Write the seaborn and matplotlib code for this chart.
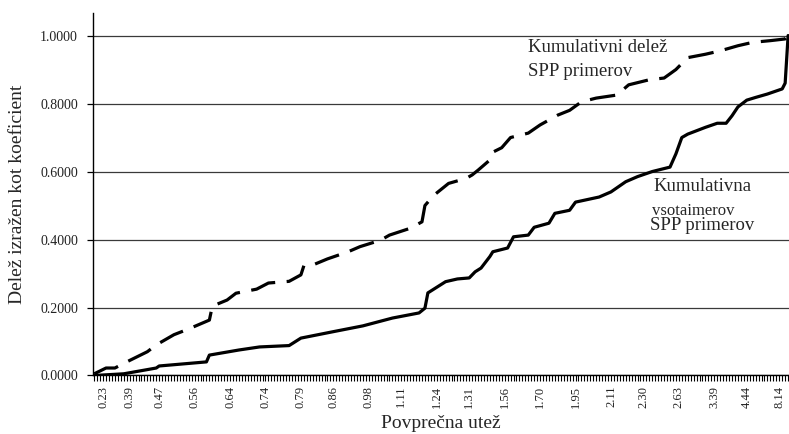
import numpy as np
import pandas as pd
import matplotlib
matplotlib.use("Agg")
import matplotlib.pyplot as plt
import seaborn as sns

# Number of SPP examples (categories on the x axis), sorted by average weight
n_items = 236

# Labelled categories and their labels
label_items = [3, 12, 22, 34, 46, 58, 70, 81, 93, 104, 116,
               127, 139, 151, 163, 175, 186, 198, 210, 221, 232]
weight_labels = ['0.23', '0.39', '0.47', '0.56', '0.64', '0.74', '0.79', '0.86',
                 '0.98', '1.11', '1.24', '1.31', '1.56', '1.70', '1.95', '2.11',
                 '2.30', '2.63', '3.39', '4.44', '8.14']

# Cumulative share of SPP examples (dashed line)
count_items = [0, 4, 7, 11, 18, 21, 27, 32, 39, 40, 45, 48, 55, 59, 66, 70, 71,
               74, 79, 86, 90, 97, 100, 107, 111, 112, 115, 120, 126, 128, 130,
               134, 135, 138, 141, 147, 151, 157, 161, 165, 170, 177, 181, 188,
               193, 197, 201, 207, 212, 218, 223, 229, 234, 235]
count_share = [0.005, 0.022, 0.022, 0.04, 0.07, 0.09, 0.12, 0.137, 0.163, 0.204,
               0.222, 0.242, 0.254, 0.272, 0.277, 0.296, 0.323, 0.325, 0.343,
               0.364, 0.379, 0.398, 0.413, 0.433, 0.452, 0.50, 0.53, 0.565,
               0.58, 0.59, 0.604, 0.634, 0.657, 0.67, 0.70, 0.713, 0.737, 0.766,
               0.78, 0.805, 0.816, 0.825, 0.855, 0.87, 0.875, 0.90, 0.935, 0.945,
               0.955, 0.97, 0.98, 0.985, 0.99, 1.0]

# Cumulative sum of SPP example weights (solid line)
sum_items = [0, 10, 21, 22, 38, 39, 49, 56, 66, 70, 81, 91, 101, 110, 112, 113,
             119, 123, 127, 129, 131, 134, 135, 140, 142, 147, 149, 154, 156,
             161, 163, 171, 175, 180, 184, 189, 195, 197, 199, 201, 204, 207,
             211, 214, 216, 218, 221, 224, 228, 233, 234, 235]
sum_share = [0.0, 0.005, 0.022, 0.028, 0.04, 0.06, 0.075, 0.084, 0.088, 0.11,
             0.129, 0.146, 0.169, 0.184, 0.198, 0.243, 0.276, 0.284, 0.287,
             0.305, 0.316, 0.35, 0.364, 0.375, 0.408, 0.413, 0.436, 0.448,
             0.477, 0.486, 0.51, 0.525, 0.54, 0.57, 0.585, 0.60, 0.613, 0.652,
             0.70, 0.71, 0.72, 0.73, 0.742, 0.742, 0.764, 0.79, 0.81, 0.818,
             0.828, 0.843, 0.86, 1.0]

y_ticks = [0.0, 0.2, 0.4, 0.6, 0.8, 1.0]

count_df = pd.DataFrame({'item': count_items, 'share': count_share})
sum_df = pd.DataFrame({'item': sum_items, 'share': sum_share})

sns.set_style("white")
plt.rcParams['font.family'] = ['Liberation Serif', 'DejaVu Serif']

fig = plt.figure(figsize=(7.89, 4.34), dpi=100)
ax = fig.add_axes([0.1183, 0.1348, 0.8817, 0.835])

sns.lineplot(data=count_df, x='item', y='share', ax=ax, color='black',
             lw=2.3, linestyle=(0, (8, 3.6)), estimator=None, sort=False)
sns.lineplot(data=sum_df, x='item', y='share', ax=ax, color='black',
             lw=2.3, estimator=None, sort=False)

ax.set_xlim(-0.3, 235.3)
ax.set_ylim(0, 1.066)

# horizontal gridlines
ax.set_yticks(y_ticks)
ax.set_yticklabels([f"{v:.4f}" for v in y_ticks])
ax.yaxis.grid(True, color='#3a3a3a', lw=0.9)
ax.set_axisbelow(True)

# one tick per example, label only on some
ax.set_xticks(np.arange(n_items))
xlabels = [''] * n_items
for i, lab in zip(label_items, weight_labels):
    xlabels[i] = lab
ax.set_xticklabels(xlabels)
ax.tick_params(axis='x', bottom=True, length=4.5, width=0.8, direction='out',
               labelsize=9, labelrotation=90, pad=3, color='black',
               labelcolor='#222222')
ax.tick_params(axis='y', left=True, length=4, width=0.9, direction='out',
               labelsize=10, pad=7, color='black', labelcolor='#222222')

for side in ['top', 'right']:
    ax.spines[side].set_visible(False)
for side in ['left', 'bottom']:
    ax.spines[side].set_color('black')
    ax.spines[side].set_linewidth(1.0)

ax.set_xlabel('')
ax.set_ylabel('')
fig.text(18 / 789, 1 - 194 / 434, 'Delež izražen kot koeficient', rotation=90,
         ha='center', va='center', fontsize=14)
fig.text(441 / 789, 1 - 424 / 434, 'Povprečna utež', ha='center', va='center',
         fontsize=14)

# annotations
ax.text(147, 0.966, 'Kumulativni delež', ha='left', va='center', fontsize=13.5)
ax.text(147, 0.893, 'SPP primerov', ha='left', va='center', fontsize=13.5)
ax.text(206, 0.557, 'Kumulativna', ha='center', va='center', fontsize=13.5)
ax.text(203, 0.484, 'vsotaimerov', ha='center', va='center', fontsize=12)
ax.text(206, 0.44, 'SPP primerov', ha='center', va='center', fontsize=13.5)

fig.savefig('out.png', dpi=100)
